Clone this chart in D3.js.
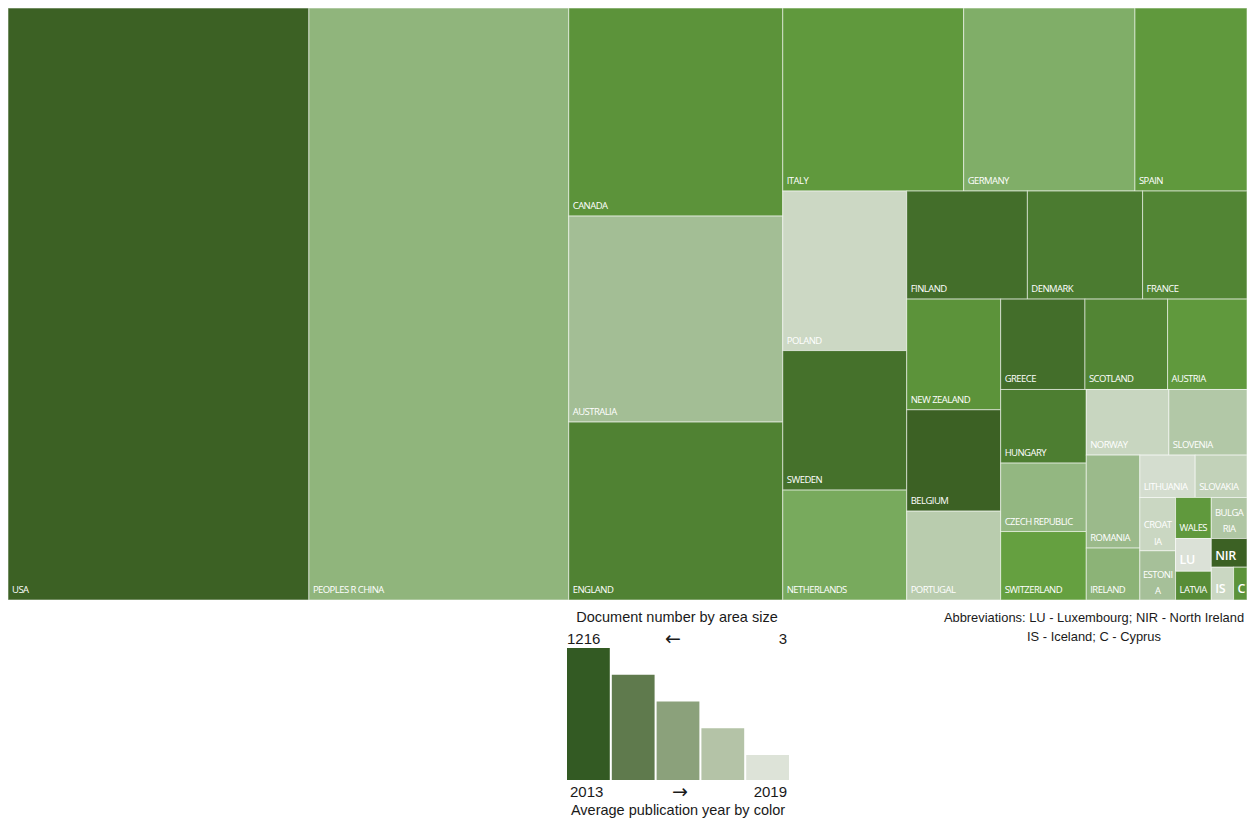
<!DOCTYPE html>
<html>
<head>
<meta charset="utf-8">
<script src="https://cdn.jsdelivr.net/npm/d3@7"></script>
<style>
  html, body { margin: 0; padding: 0; background: #ffffff; }
  svg { display: block; }
</style>
</head>
<body>
<svg id="chart" width="1258" height="819"></svg>
<script>
// ---- Data ----
const countries = ["USA","PEOPLES R CHINA","CANADA","AUSTRALIA","ENGLAND","ITALY","GERMANY","SPAIN",
  "POLAND","SWEDEN","NETHERLANDS","FINLAND","DENMARK","FRANCE","NEW ZEALAND","BELGIUM","PORTUGAL",
  "GREECE","SCOTLAND","AUSTRIA","HUNGARY","CZECH REPUBLIC","SWITZERLAND","NORWAY","SLOVENIA",
  "ROMANIA","IRELAND","LITHUANIA","SLOVAKIA","CROATIA","ESTONIA","WALES","BULGARIA","LU",
  "LATVIA","NIR","IS","C"];
// label text shown in each cell ("|" = line break used in the original)
const labels = ["USA","PEOPLES R CHINA","CANADA","AUSTRALIA","ENGLAND","ITALY","GERMANY","SPAIN",
  "POLAND","SWEDEN","NETHERLANDS","FINLAND","DENMARK","FRANCE","NEW ZEALAND","BELGIUM","PORTUGAL",
  "GREECE","SCOTLAND","AUSTRIA","HUNGARY","CZECH REPUBLIC","SWITZERLAND","NORWAY","SLOVENIA",
  "ROMANIA","IRELAND","LITHUANIA","SLOVAKIA","CROAT|IA","ESTONI|A","WALES","BULGA|RIA","LU",
  "LATVIA","NIR","IS","C"];
// number of documents (area)
const documents = [1216,1050,304,301,260,226,214,140,
  135,118,93,89,85,77,71,65,57,
  52,51,49,43,40,40,37,35,
  34,19,16,15,13,12,10,10,8,
  7,7,5,3];
// average publication year (colour)
const avgYear = [2013.1,2016.1,2014.6,2016.6,2014.1,2014.8,2015.7,2014.8,
  2018.0,2013.6,2015.5,2013.5,2013.9,2014.2,2014.6,2013.1,2017.3,
  2013.5,2014.2,2014.8,2014.0,2016.2,2015.0,2017.8,2017.1,
  2016.4,2016.0,2018.5,2017.6,2017.9,2016.7,2014.8,2017.0,2018.9,
  2014.4,2013.1,2017.9,2014.6];

// legend
const legendSteps = [5,4,3,2,1];
const legendColors = ["#335a23","#5f7a4d","#8ba17b","#b4c3a7","#dde3d8"];
const legendTopLabels = ["1216","\u2190","3"];
const legendBottomLabels = ["2013","\u2192","2019"];
const legendTitle = "Document number by area size";
const legendSubtitle = "Average publication year by color";
const abbreviations = ["Abbreviations: LU - Luxembourg; NIR - North Ireland","IS - Iceland; C - Cyprus"];

// ---- Drawing ----
const svg = d3.select("#chart");

const color = d3.scaleLinear()
  .domain([2013, 2013.9, 2015, 2015.7, 2016.6, 2017.8, 2019])
  .range(["#3a5e22","#4b7b30","#65a040","#80ae68","#a3be95","#c8d6c0","#dde2d9"])
  .clamp(true);

const rows = countries.map((c, i) => ({name: c, label: labels[i], value: documents[i], year: avgYear[i], idx: i}));

const root = d3.hierarchy({children: rows})
  .sum(d => d.value || 0);

d3.treemap()
  .tile(d3.treemapSquarify.ratio(1))
  .size([1239, 592])
  .round(false)(root);

const g = svg.append("g").attr("transform", "translate(8,8)");

const cells = g.selectAll("g.cell")
  .data(root.leaves())
  .join("g")
  .attr("class", "cell");

cells.append("rect")
  .attr("x", d => d.x0)
  .attr("y", d => d.y0)
  .attr("width", d => d.x1 - d.x0)
  .attr("height", d => d.y1 - d.y0)
  .attr("fill", d => color(d.data.year))
  .attr("stroke", "rgba(255,255,255,0.55)")
  .attr("stroke-width", 1);

cells.each(function(d) {
  const sel = d3.select(this);
  const lines = d.data.label.split("|");
  const w = d.x1 - d.x0, h = d.y1 - d.y0;
  const small = d.data.label.length <= 3 && w * h < 1500;
  const fs = small ? 12.5 : 9.5;
  const t = sel.append("text")
    .attr("fill", "#ffffff")
    .attr("font-family", "'Open Sans', 'DejaVu Sans', sans-serif")
    .attr("font-size", fs)
    .attr("font-weight", small ? 600 : 500)
    .attr("letter-spacing", small ? "-0.3px" : "-0.55px");
  if (lines.length > 1) {
    const cx = (d.x0 + d.x1) / 2;
    lines.forEach((ln, k) => {
      t.append("tspan")
        .attr("x", cx)
        .attr("y", d.y1 - 6 - (lines.length - 1 - k) * 16.5)
        .attr("text-anchor", "middle")
        .text(ln);
    });
  } else {
    t.attr("x", d.x0 + 4).attr("y", d.y1 - 7).text(lines[0]);
  }
});

// ---- Legend ----
const lx = d3.scaleBand().domain(d3.range(legendSteps.length)).range([567, 789]).paddingInner(0.045);
const ly = d3.scaleLinear().domain([1, 5]).range([755, 648]);

const leg = svg.append("g");
leg.selectAll("rect")
  .data(legendSteps)
  .join("rect")
  .attr("x", (d, i) => lx(i))
  .attr("y", d => ly(d))
  .attr("width", lx.bandwidth())
  .attr("height", d => 780 - ly(d))
  .attr("fill", (d, i) => legendColors[i]);

const textFont = "'Liberation Sans', Arial, sans-serif";
const txt = (x, y, s, anchor, size, fam) => svg.append("text")
  .attr("x", x).attr("y", y)
  .attr("text-anchor", anchor)
  .attr("font-family", fam || textFont)
  .attr("font-size", size)
  .attr("fill", "#1a1a1a")
  .text(s);

const arrowFont = "'DejaVu Sans', sans-serif";
txt(677, 622, legendTitle, "middle", 14.5);
txt(567, 644, legendTopLabels[0], "start", 15);
txt(673, 645, legendTopLabels[1], "middle", 19, arrowFont);
txt(787, 644, legendTopLabels[2], "end", 15);
txt(570, 797, legendBottomLabels[0], "start", 15);
txt(680, 798, legendBottomLabels[1], "middle", 19, arrowFont);
txt(787, 797, legendBottomLabels[2], "end", 15);
txt(678, 815, legendSubtitle, "middle", 14.5);

txt(1094, 622, abbreviations[0], "middle", 12.9);
txt(1094, 641, abbreviations[1], "middle", 12.9);
</script>
</body>
</html>
